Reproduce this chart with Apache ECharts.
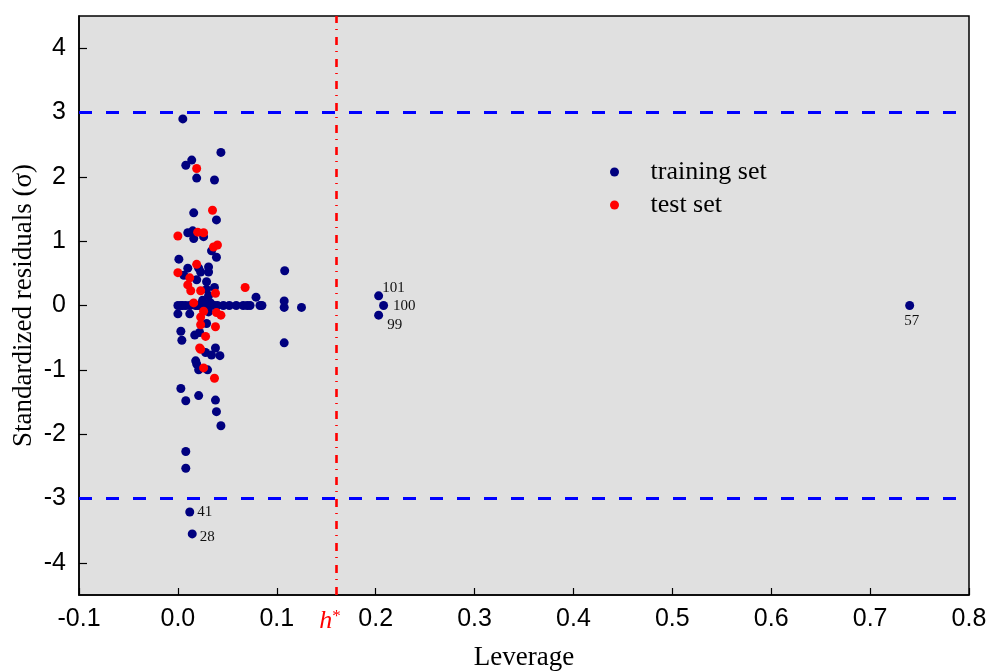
<!DOCTYPE html>
<html>
<head>
<meta charset="utf-8">
<script src="https://cdn.jsdelivr.net/npm/echarts@6/dist/echarts.min.js"></script>
<style>
html,body{margin:0;padding:0;background:#fff;}
#chart{width:988px;height:671px;}
</style>
</head>
<body>
<div id="chart"></div>
<script>
// ---- data (leverage, standardized residual) ----
const trainingSet = [
  [0.005,2.90],[0.0435,2.38],[0.014,2.26],[0.008,2.18],[0.019,1.98],[0.037,1.95],
  [0.016,1.44],[0.039,1.33],[0.010,1.13],[0.015,1.16],[0.016,1.04],[0.026,1.07],
  [0.034,0.85],[0.039,0.75],[0.001,0.72],[0.010,0.58],[0.021,0.58],[0.031,0.60],
  [0.031,0.52],[0.006,0.47],[0.023,0.52],[0.019,0.40],[0.029,0.37],[0.037,0.28],
  [0.029,0.25],[0.031,0.15],[0.079,0.13],[0.025,0.08],[0.033,0.04],
  [0.000,0.00],[0.003,0.00],[0.005,0.00],[0.008,0.00],[0.012,0.00],[0.014,0.01],
  [0.018,0.00],[0.020,0.00],[0.024,-0.01],[0.029,0.01],[0.033,0.00],[0.037,0.00],
  [0.040,0.00],[0.046,0.00],[0.052,0.00],[0.059,0.00],[0.066,0.00],[0.070,0.00],
  [0.073,0.00],[0.083,0.00],
  [0.000,-0.13],[0.012,-0.13],[0.031,-0.10],[0.029,-0.28],[0.003,-0.40],[0.017,-0.46],
  [0.022,-0.42],[0.004,-0.54],[0.038,-0.66],[0.028,-0.73],[0.034,-0.77],[0.0425,-0.78],
  [0.018,-0.86],[0.019,-0.91],[0.021,-1.00],[0.030,-1.00],[0.003,-1.29],[0.021,-1.40],
  [0.008,-1.48],[0.038,-1.47],[0.039,-1.65],[0.0435,-1.87],[0.008,-2.27],[0.008,-2.53],
  [0.108,0.54],[0.085,0.00],[0.1075,0.07],[0.1075,-0.03],[0.125,-0.03],[0.1075,-0.58],
  [0.203,0.15],[0.208,0.00],[0.203,-0.15],[0.740,0.00],[0.012,-3.21],[0.0145,-3.55]
];
const testSet = [
  [0.019,2.13],[0.035,1.48],[0.000,1.08],[0.020,1.14],[0.026,1.13],[0.036,0.91],
  [0.040,0.94],[0.019,0.64],[0.000,0.51],[0.012,0.43],[0.010,0.32],[0.013,0.23],
  [0.023,0.23],[0.038,0.19],[0.068,0.28],[0.016,0.04],[0.026,-0.09],[0.039,-0.11],
  [0.0435,-0.15],[0.023,-0.18],[0.023,-0.30],[0.038,-0.33],[0.028,-0.48],[0.022,-0.66],
  [0.023,-0.68],[0.026,-0.97],[0.037,-1.13]
];
// annotated compound ids: [leverage, residual, id]
const annotations = [
  [0.203,0.15,'101'],[0.208,0.00,'100'],[0.203,-0.15,'99'],
  [0.740,0.00,'57'],[0.012,-3.21,'41'],[0.0145,-3.55,'28']
];
const warningLeverage = 0.159;   // h*
const residualLimits = [3,-3];
const yTicks = [-4,-3,-2,-1,0,1,2,3,4];
const seriesNames = ['training set','test set'];

// ---- styles ----
const labelStyle = {
  '101': {position:'right', offset:[-5,-8]},
  '100': {position:'right', offset:[1,1]},
  '99':  {position:'right', offset:[0,10]},
  '57':  {position:'bottom', offset:[2,0]},
  '41':  {position:'right', offset:[-1,0]},
  '28':  {position:'right', offset:[-1,3]}
};
const navy = '#00007F';
const red = '#FF0000';
const serif = '"Liberation Serif","Times New Roman",serif';
const sans = '"Liberation Sans",Arial,sans-serif';

const trainingData = trainingSet.map(p => {
  const a = annotations.find(q => q[0] === p[0] && q[1] === p[1]);
  if (!a) return p;
  const st = labelStyle[a[2]];
  return {
    value: p,
    label: {show:true, formatter:a[2], position:st.position, offset:st.offset,
            distance:4, fontFamily:serif, fontSize:15, color:'#111'}
  };
});

const tickFont = {color:'#000', fontFamily:sans, fontSize:25};

const chart = echarts.init(document.getElementById('chart'), null, {renderer:'canvas'});
chart.setOption({
  animation:false,
  backgroundColor:'#ffffff',
  grid:{left:79, right:19, top:16, bottom:76, show:true, backgroundColor:'#E0E0E0',
        borderColor:'#000', borderWidth:1.5, containLabel:false, outerBoundsMode:'none'},
  legend:{
    orient:'vertical', left:605, top:154, itemWidth:62, itemHeight:9, itemGap:7,
    selectedMode:false, icon:'circle',
    textStyle:{fontFamily:serif, fontSize:26, color:'#000'},
    data:seriesNames
  },
  xAxis:{
    type:'value', min:-0.1, max:0.8, interval:0.1,
    name:'Leverage', nameLocation:'middle', nameGap:49, nameMoveOverlap:false,
    nameTextStyle:{fontFamily:serif, fontSize:27, color:'#000'},
    axisLine:{show:true, onZero:false, lineStyle:{color:'#000', width:1.5}},
    axisTick:{show:true, inside:true, length:7, lineStyle:{color:'#000', width:1.2}},
    axisLabel:Object.assign({margin:12, formatter:v => v.toFixed(1)}, tickFont),
    splitLine:{show:false}
  },
  yAxis:{
    type:'value', min:-4.5, max:4.5,
    name:'Standardized residuals (\u03c3)', nameLocation:'middle', nameGap:42, nameMoveOverlap:false,
    nameTextStyle:{fontFamily:serif, fontSize:27, color:'#000'},
    axisLine:{show:true, onZero:false, lineStyle:{color:'#000', width:1.5}},
    axisTick:{show:true, inside:true, length:8, customValues:yTicks,
              lineStyle:{color:'#000', width:1.2}},
    axisLabel:Object.assign({margin:13, customValues:yTicks, formatter:v => String(v)}, tickFont),
    splitLine:{show:false}
  },
  series:[
    {
      name:seriesNames[0], type:'scatter', symbol:'circle', symbolSize:9,
      itemStyle:{color:navy, opacity:1}, z:3,
      data:trainingData,
      markLine:{
        silent:true, symbol:'none', animation:false,
        data:[
          {yAxis:residualLimits[0], lineStyle:{color:'#0000FF', width:2.8, type:[13,14]}, label:{show:false}},
          {yAxis:residualLimits[1], lineStyle:{color:'#0000FF', width:2.8, type:[13,14]}, label:{show:false}},
          {xAxis:warningLeverage, lineStyle:{color:red, width:2.6, type:[8,7,1,6]},
           label:{show:true, position:'start', distance:13, offset:[-6,0],
                  formatter:'{h|h}{s|*}',
                  rich:{
                    h:{fontFamily:serif, fontStyle:'italic', fontSize:26, color:red},
                    s:{fontFamily:serif, fontSize:17, color:red, padding:[0,0,10,0]}
                  }}}
        ]
      }
    },
    {
      name:seriesNames[1], type:'scatter', symbol:'circle', symbolSize:9,
      itemStyle:{color:red, opacity:1}, z:4,
      data:testSet
    }
  ]
});
</script>
</body>
</html>
